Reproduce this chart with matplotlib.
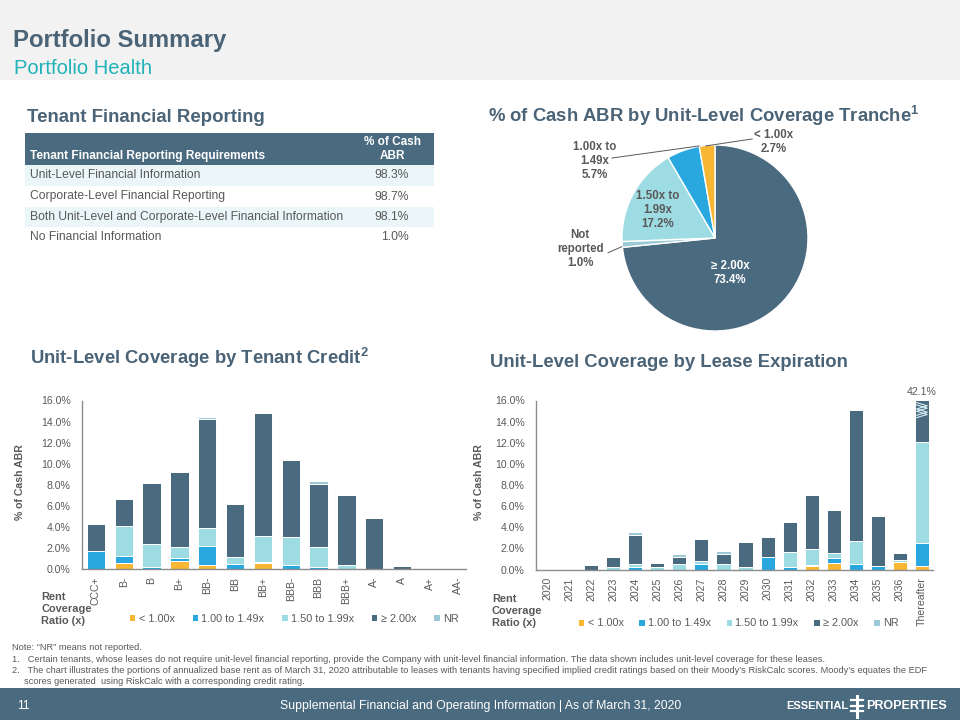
import matplotlib
matplotlib.use("Agg")
import matplotlib.pyplot as plt
from matplotlib.patches import Rectangle, Patch
import numpy as np

plt.rcParams['font.family'] = ['Liberation Sans', 'DejaVu Sans']
plt.rcParams['mathtext.fontset'] = 'custom'
plt.rcParams['mathtext.rm'] = 'Liberation Sans'
plt.rcParams['mathtext.bf'] = 'Liberation Sans:bold'

# ---------------- data ----------------
report_reqs = ["Unit-Level Financial Information",
               "Corporate-Level Financial Reporting",
               "Both Unit-Level and Corporate-Level Financial Information",
               "No Financial Information"]
report_pcts = [98.3, 98.7, 98.1, 1.0]

pie_labels = ["\u2265 2.00x", "Not\nreported", "1.50x to\n1.99x", "1.00x to\n1.49x", "< 1.00x"]
pie_values = [73.4, 1.0, 17.2, 5.7, 2.7]

series_names = ["< 1.00x", "1.00 to 1.49x", "1.50 to 1.99x", "\u2265 2.00x", "NR"]

credit_cats = ['CCC+', 'B-', 'B', 'B+', 'BB-', 'BB', 'BB+', 'BBB-', 'BBB', 'BBB+', 'A-', 'A', 'A+', 'AA-']
credit_lt100 = [0.0, 0.6, 0.0, 0.8, 0.35, 0.0, 0.55, 0.0, 0.0, 0.0, 0.0, 0.0, 0.0, 0.0]
credit_100_149 = [1.7, 0.6, 0.15, 0.25, 1.8, 0.45, 0.15, 0.35, 0.15, 0.0, 0.0, 0.0, 0.0, 0.0]
credit_150_199 = [0.0, 2.85, 2.2, 1.0, 1.75, 0.65, 2.45, 2.65, 1.9, 0.35, 0.0, 0.0, 0.0, 0.0]
credit_ge200 = [2.6, 2.55, 5.85, 7.2, 10.35, 5.1, 11.7, 7.35, 6.0, 6.65, 4.85, 0.3, 0.0, 0.0]
credit_nr = [0.0, 0.0, 0.0, 0.0, 0.2, 0.0, 0.0, 0.0, 0.35, 0.0, 0.0, 0.0, 0.0, 0.0]

lease_cats = ['2020', '2021', '2022', '2023', '2024', '2025', '2026', '2027', '2028', '2029',
              '2030', '2031', '2032', '2033', '2034', '2035', '2036', 'Thereafter']
lease_lt100 = [0, 0, 0, 0, 0, 0, 0, 0, 0, 0, 0, 0, 0.3, 0.6, 0, 0, 0.7, 0.3]
lease_100_149 = [0, 0, 0, 0, 0.25, 0, 0, 0.55, 0, 0, 1.15, 0.2, 0.15, 0.45, 0.5, 0.3, 0, 2.25]
lease_150_199 = [0, 0, 0, 0.2, 0.25, 0.2, 0.5, 0.3, 0.55, 0.2, 0, 1.5, 1.5, 0.5, 2.2, 0, 0.2, 9.5]
lease_ge200 = [0, 0, 0.45, 1.0, 2.75, 0.45, 0.7, 2.05, 0.9, 2.4, 1.95, 2.75, 5.15, 4.1, 12.4, 4.8, 0.7, 30.05]
lease_nr = [0, 0, 0, 0, 0.3, 0, 0.3, 0, 0.3, 0, 0, 0, 0, 0, 0, 0, 0, 0]

yticks = [0, 2, 4, 6, 8, 10, 12, 14, 16]

# ---------------- style ----------------
DARK = '#4A6A7F'
ORANGE = '#F7B733'
BLUE = '#29A8DF'
CYAN = '#9DDCE3'
NRC = '#9CC9D6'
TITLE = '#4A6376'
TEAL = '#20B2B8'
GRAY = '#595959'
series_colors = [ORANGE, BLUE, CYAN, DARK, NRC]

fig = plt.figure(figsize=(9.6, 7.2), dpi=100)
bg = fig.add_axes([0, 0, 1, 1], zorder=0)
bg.set_xlim(0, 960)
bg.set_ylim(720, 0)
bg.axis('off')

# header band & footer band
bg.add_patch(Rectangle((0, 0), 960, 80, color='#F2F2F2', lw=0))
bg.add_patch(Rectangle((0, 688), 960, 32, color=DARK, lw=0))
bg.text(13, 47, "Portfolio Summary", fontsize=17.2, fontweight='bold', color=TITLE, va='baseline')
bg.text(14, 73.5, "Portfolio Health", fontsize=14.5, color=TEAL, va='baseline')

# section titles
bg.text(27, 122, "Tenant Financial Reporting", fontsize=13.4, fontweight='bold', color=TITLE, va='baseline')
bg.text(488, 122, r"% of Cash ABR by Unit-Level Coverage Tranche$^{\mathbf{1}}$", fontsize=13.3,
        fontweight='bold', color=TITLE, va='baseline')
bg.text(30, 364, r"Unit-Level Coverage by Tenant Credit$^{\mathbf{2}}$", fontsize=13.3,
        fontweight='bold', color=TITLE, va='baseline')
bg.text(490, 367, "Unit-Level Coverage by Lease Expiration", fontsize=13.3,
        fontweight='bold', color=TITLE, va='baseline')

# ---------------- table ----------------
bg.add_patch(Rectangle((25, 133), 409, 32, color=DARK, lw=0))
bg.text(30, 155.5, "Tenant Financial Reporting Requirements", fontsize=8.6, fontweight='bold',
        color='white', va='center')
bg.text(392, 149, "% of Cash\nABR", fontsize=8.5, fontweight='bold', color='white',
        va='center', ha='center', linespacing=1.15)
row_edges = [165, 186, 207, 227, 248]
for i, (req, pct) in enumerate(zip(report_reqs, report_pcts)):
    y0, y1 = row_edges[i], row_edges[i + 1]
    if i % 2 == 0:
        bg.add_patch(Rectangle((25, y0), 409, y1 - y0, color='#EAF6F8', lw=0))
    ym = (y0 + y1) / 2
    bg.text(30, ym, req, fontsize=8.7, color=GRAY, va='center')
    bg.text(409, ym, f"{pct:.1f}%", fontsize=8.7, color=GRAY, va='center', ha='right')

# ---------------- pie ----------------
pax = fig.add_axes([565 / 960, 1 - 388 / 720, 300 / 960, 300 / 720])
pax.pie(pie_values, colors=[DARK, NRC, CYAN, BLUE, ORANGE], startangle=90, counterclock=False,
        wedgeprops=dict(edgecolor='white', linewidth=1.0))
lim = 300 / (2 * 93)
pax.set_xlim(-lim, lim)
pax.set_ylim(-lim, lim)
pax.set_aspect('auto')
lab_pos = [(0.16, -0.38), (-1.45, -0.12), (-0.615, 0.30), (-1.29, 0.83), (0.63, 1.03)]
for i, (lab, val) in enumerate(zip(pie_labels, pie_values)):
    c = 'white' if i == 0 else GRAY
    pax.text(lab_pos[i][0], lab_pos[i][1], f"{lab}\n{val:.1f}%", ha='center', va='center',
             fontsize=8.3, fontweight='bold', color=c, linespacing=1.25)
# leader lines
pax.plot([-1.108, -0.17], [0.86, 0.99], color=GRAY, lw=0.7)
pax.plot([0.40, -0.10], [1.065, 0.99], color=GRAY, lw=0.7)
pax.plot([-1.15, -1.003], [-0.158, -0.094], color=GRAY, lw=0.7)


# ---------------- bar charts ----------------
def stacked(ax, cats, series, width):
    x = np.arange(len(cats))
    bottom = np.zeros(len(cats))
    handles = []
    for vals, col, name in zip(series, series_colors, series_names):
        vals = np.asarray(vals, dtype=float)
        ax.bar(x, vals, width, bottom=bottom, color=col, edgecolor='white', linewidth=0.7, zorder=2)
        bottom += vals
        handles.append(Patch(facecolor=col, edgecolor='none', label=name))
    ax.set_ylim(0, 16)
    ax.set_yticks(yticks)
    ax.set_yticklabels([f"{t:.1f}%" for t in yticks])
    ax.set_xticks(x)
    ax.set_xticklabels(cats, rotation=90)
    ax.tick_params(axis='both', length=0, labelsize=7.6, labelcolor=GRAY)
    ax.tick_params(axis='y', pad=8.2)
    ax.tick_params(axis='x', pad=5.5)
    for s in ['top', 'right']:
        ax.spines[s].set_visible(False)
    for s in ['left', 'bottom']:
        ax.spines[s].set_color('#8C8C8C')
        ax.spines[s].set_linewidth(1.0)
    ax.patch.set_alpha(0)
    return x, bottom, handles


ax1 = fig.add_axes([82 / 960, 1 - 569 / 720, 384 / 960, 168.5 / 720])
_, _, handles = stacked(ax1, credit_cats,
                        [credit_lt100, credit_100_149, credit_150_199, credit_ge200, credit_nr], 0.66)
ax1.set_xlim(-0.5, 13.3)

ax2 = fig.add_axes([536 / 960, 1 - 569.5 / 720, 397 / 960, 169 / 720])
x2, tot2, _ = stacked(ax2, lease_cats,
                      [lease_lt100, lease_100_149, lease_150_199, lease_ge200, lease_nr], 0.64)
ax2.set_xlim(-0.5, len(lease_cats) - 0.5)
# broken-bar marks and total label on the last bar
xl = x2[-1]
zz_x = [xl - 0.24, xl + 0.24, xl - 0.24, xl + 0.24, xl - 0.24]
for off in (0.0, -0.22):
    ax2.plot(zz_x, [15.8 + off, 15.5 + off, 15.2 + off, 14.9 + off, 14.6 + off],
             color='#D6EEF3', lw=0.8, zorder=3, clip_on=False)
ax2.text(xl, 16.35, f"{tot2[-1]:.1f}%", ha='center', va='bottom', fontsize=7.6, color=GRAY,
         clip_on=False)

# y labels
bg.text(20, 482, "% of Cash ABR", rotation=90, fontsize=7.6, fontweight='bold', color=GRAY,
        ha='center', va='center')
bg.text(479, 482, "% of Cash ABR", rotation=90, fontsize=7.6, fontweight='bold', color=GRAY,
        ha='center', va='center')

# legends
bg.text(41, 609.5, "Rent\nCoverage\nRatio (x)", fontsize=7.9, fontweight='bold', color=GRAY,
        va='center', linespacing=1.25)
bg.text(492, 611, "Rent\nCoverage\nRatio (x)", fontsize=7.9, fontweight='bold', color=GRAY,
        va='center', linespacing=1.25)
for anchor, cs in (((130 / 960, 1 - 618.5 / 720), 1.66), ((579 / 960, 1 - 623.5 / 720), 1.45)):
    fig.legend(handles=handles, loc='center left', bbox_to_anchor=anchor, ncol=5, frameon=False,
               fontsize=7.8, labelcolor=GRAY, handlelength=0.5, handleheight=0.5,
               handletextpad=0.3, columnspacing=cs, borderpad=0, borderaxespad=0)

# footnotes
fn = 6.7
bg.text(12, 648, "Note: \u201cNR\u201d means not reported.", fontsize=fn, color=GRAY, va='center')
bg.text(12, 659, "1.   Certain tenants, whose leases do not require unit-level financial reporting, provide the "
        "Company with unit-level financial information. The data shown includes unit-level coverage for these leases.",
        fontsize=fn, color=GRAY, va='center')
bg.text(12, 670.5, "2.   The chart illustrates the portions of annualized base rent as of March 31, 2020 attributable "
        "to leases with tenants having specified implied credit ratings based on their Moody\u2019s RiskCalc scores. "
        "Moody\u2019s equates the EDF", fontsize=fn, color=GRAY, va='center')
bg.text(24, 681, "scores generated  using RiskCalc with a corresponding credit rating.", fontsize=fn,
        color=GRAY, va='center')

# footer
bg.text(17, 706, "11", fontsize=8.8, color='white', va='center')
bg.text(481, 706, "Supplemental Financial and Operating Information | As of March 31, 2020", fontsize=8.8,
        color='white', va='center', ha='center')
bg.text(848, 706, "ESSENTIAL", fontsize=8.0, fontweight='bold', color='white', va='center', ha='right')
bg.text(866, 706, "PROPERTIES", fontsize=9, fontweight='bold', color='white', va='center', ha='left')
bg.plot([857, 857], [696, 717], color='white', lw=2.2)
for yy in (700, 705.5, 711):
    bg.plot([851, 863], [yy, yy], color='white', lw=1.6)

fig.savefig("out.png", dpi=100)
